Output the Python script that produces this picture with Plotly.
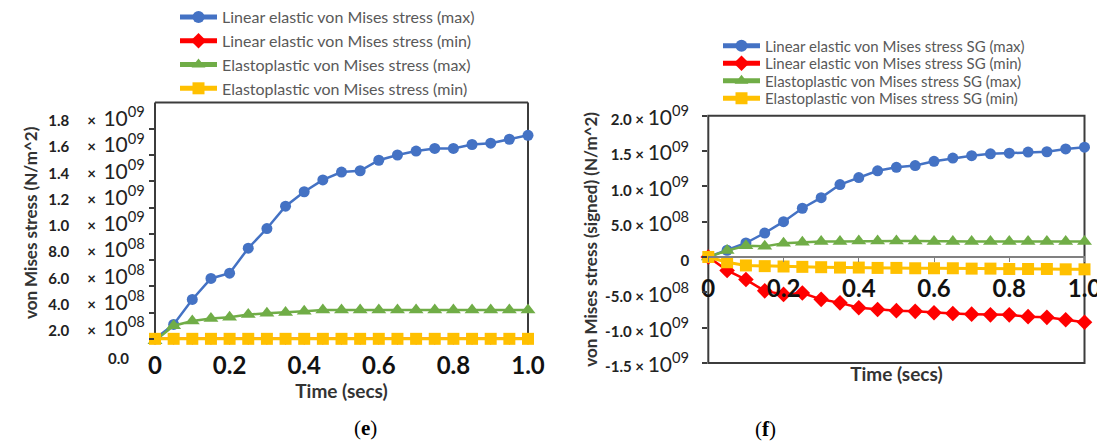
import plotly.graph_objects as go

# ---------------- data ----------------
time_s = [0.0, 0.05, 0.1, 0.15, 0.2, 0.25, 0.3, 0.35, 0.4, 0.45, 0.5,
          0.55, 0.6, 0.65, 0.7, 0.75, 0.8, 0.85, 0.9, 0.95, 1.0]

# panel (e)
e_lin_max = [2.0e8, 3.1e8, 5.0e8, 6.6e8, 7.0e8, 8.9e8, 1.04e9, 1.21e9, 1.32e9, 1.41e9, 1.47e9,
             1.48e9, 1.56e9, 1.60e9, 1.63e9, 1.65e9, 1.65e9, 1.68e9, 1.69e9, 1.72e9, 1.75e9]
e_lin_min = [2.0e8, 2.0e8, 2.0e8, 2.0e8, 2.0e8, 2.0e8, 2.0e8, 2.0e8, 2.0e8, 2.0e8, 2.0e8,
             2.0e8, 2.0e8, 2.0e8, 2.0e8, 2.0e8, 2.0e8, 2.0e8, 2.0e8, 2.0e8, 2.0e8]
e_ep_max = [1.85e8, 3.0e8, 3.35e8, 3.55e8, 3.65e8, 3.85e8, 3.95e8, 4.0e8, 4.1e8, 4.2e8, 4.2e8,
            4.2e8, 4.2e8, 4.2e8, 4.2e8, 4.2e8, 4.2e8, 4.2e8, 4.2e8, 4.2e8, 4.2e8]
e_ep_min = [2.0e8, 2.0e8, 2.0e8, 2.0e8, 2.0e8, 2.0e8, 2.0e8, 2.0e8, 2.0e8, 2.0e8, 2.0e8,
            2.0e8, 2.0e8, 2.0e8, 2.0e8, 2.0e8, 2.0e8, 2.0e8, 2.0e8, 2.0e8, 2.0e8]

# panel (f)
f_lin_max = [0.0, 0.95e8, 1.98e8, 3.39e8, 5.0e8, 6.9e8, 8.4e8, 1.025e9, 1.125e9, 1.22e9, 1.27e9,
             1.295e9, 1.355e9, 1.40e9, 1.435e9, 1.46e9, 1.47e9, 1.485e9, 1.49e9, 1.53e9, 1.555e9]
f_lin_min = [0.0, -1.9e8, -3.2e8, -4.8e8, -5.3e8, -5.1e8, -6.0e8, -6.5e8, -7.2e8, -7.45e8, -7.6e8,
             -7.7e8, -7.9e8, -8.0e8, -8.1e8, -8.2e8, -8.2e8, -8.45e8, -8.55e8, -8.9e8, -9.25e8]
f_ep_max = [0.0, 0.9e8, 1.6e8, 1.5e8, 1.95e8, 2.1e8, 2.2e8, 2.2e8, 2.25e8, 2.25e8, 2.25e8,
            2.25e8, 2.2e8, 2.2e8, 2.2e8, 2.2e8, 2.2e8, 2.2e8, 2.2e8, 2.2e8, 2.2e8]
f_ep_min = [0.0, -0.75e8, -1.2e8, -1.3e8, -1.35e8, -1.4e8, -1.45e8, -1.5e8, -1.5e8, -1.55e8, -1.55e8,
            -1.6e8, -1.6e8, -1.6e8, -1.65e8, -1.65e8, -1.7e8, -1.7e8, -1.7e8, -1.75e8, -1.75e8]

names_e = ["Linear elastic von Mises stress (max)", "Linear elastic von Mises stress (min)",
           "Elastoplastic von Mises stress (max)", "Elastoplastic von Mises stress (min)"]
names_f = ["Linear elastic von Mises stress SG (max)", "Linear elastic von Mises stress SG (min)",
           "Elastoplastic von Mises stress SG (max)", "Elastoplastic von Mises stress SG (min)"]

x_tickvals = [0, 0.2, 0.4, 0.6, 0.8, 1.0]
x_ticktext = ["0", "0.2", "0.4", "0.6", "0.8", "1.0"]

e_ytickvals = [2e8, 4e8, 6e8, 8e8, 1.0e9, 1.2e9, 1.4e9, 1.6e9, 1.8e9]
e_ymant = ["2.0", "4.0", "6.0", "8.0", "1.0", "1.2", "1.4", "1.6", "1.8"]
e_yexp = ["08", "08", "08", "08", "09", "09", "09", "09", "09"]

f_ytickvals = [-1.5e9, -1.0e9, -5e8, 0, 5e8, 1.0e9, 1.5e9, 2.0e9]
f_ymant = ["-1.5", "-1.0", "-5.0", "0", "5.0", "1.0", "1.5", "2.0"]
f_yexp = ["09", "09", "08", "", "08", "09", "09", "09"]

# ---------------- styles ----------------
colors = ["#4472C4", "#FF0000", "#70AD47", "#FFC000"]
symbols = ["circle", "diamond", "triangle-up", "square"]
msizes_e = [11, 9, 13, 12]
msizes_f = [11, 12, 13, 12]
lwidths = [2.5, 2.5, 2.5, 3]
FONT = "Lato"
AX = "#3c3c3c"


def sci_label(m, e, gap1, gap2):
    if e == "":
        return f"<span style='font-size:15px;font-weight:bold'>{m}</span>"
    return (f"<span style='font-size:15px;font-weight:bold'>{m}{gap1}×{gap2}</span>"
            f"10<sup>{e}</sup>")


fig = go.Figure()

series_e = [e_lin_max, e_lin_min, e_ep_max, e_ep_min]
for i, ys in enumerate(series_e):
    fig.add_trace(go.Scatter(
        x=time_s, y=ys, name=names_e[i], mode="lines+markers",
        line=dict(color=colors[i], width=lwidths[i]),
        marker=dict(symbol=symbols[i], size=msizes_e[i], color=colors[i]),
        xaxis="x", yaxis="y", legend="legend", cliponaxis=False))

series_f = [f_lin_max, f_lin_min, f_ep_max, f_ep_min]
for i, ys in enumerate(series_f):
    fig.add_trace(go.Scatter(
        x=time_s, y=ys, name=names_f[i], mode="lines+markers",
        line=dict(color=colors[i], width=lwidths[i]),
        marker=dict(symbol=symbols[i], size=msizes_f[i], color=colors[i]),
        xaxis="x2", yaxis="y2", legend=f"legend{i + 2}", cliponaxis=False))

W, H = 1097, 444
# panel domains (paper fractions)
e_xdom = [155 / W, 528 / W]
e_ydom = [1 - 343 / H, 1 - 101.7 / H]
f_xdom = [708.3 / W, 1084.5 / W]
f_ydom = [1 - 362.7 / H, 1 - 115 / H]
e_yrange = [1.665e8, 2.0e9]
f_yrange = [-1.5e9, 2.0e9]
zero_pos = f_ydom[0] + (0 - f_yrange[0]) / (f_yrange[1] - f_yrange[0]) * (f_ydom[1] - f_ydom[0])

tickfont_x = dict(family=FONT, size=24, color="#111111", weight="bold")
tickfont_y = dict(family=FONT, size=21, color="#222222")
ytitlefont = dict(family=FONT, size=17, color="#333333")
xtitlefont = dict(family=FONT, size=19, color="#333333")

legend_common = dict(font=dict(family=FONT, size=16, color="#595959"),
                     bgcolor="rgba(0,0,0,0)", itemwidth=37, itemsizing="constant",
                     xanchor="left", yanchor="middle", orientation="v")

layout_legends = {}
layout_legends["legend"] = dict(legend_common, x=175 / W, y=1 - 52 / H)
row_y = [46, 63.5, 81, 98.5]
for i in range(4):
    d = dict(legend_common, x=718 / W, y=1 - row_y[i] / H)
    d["font"] = dict(family=FONT, size=15, color="#595959")
    layout_legends[f"legend{i + 2}"] = d

frame = dict(color=AX, width=2)
fig.update_layout(
    width=W, height=H, margin=dict(l=0, r=0, t=0, b=0),
    paper_bgcolor="white", plot_bgcolor="white", showlegend=True,
    xaxis=dict(domain=e_xdom, range=[0, 1.0], anchor="y", tickvals=x_tickvals, ticktext=x_ticktext,
               showgrid=False, zeroline=False, showline=False, ticks="", ticklabelstandoff=6,
               tickfont=tickfont_x, automargin=False, ticklabeloverflow="allow",
               title=dict(text="<b>Time (secs)</b>", font=xtitlefont, standoff=0)),
    yaxis=dict(domain=e_ydom, range=e_yrange, anchor="x", tickvals=e_ytickvals,
               ticktext=[sci_label(m, e, "&nbsp;&nbsp;&nbsp;&nbsp;&nbsp;", "&nbsp;&nbsp;")
                         for m, e in zip(e_ymant, e_yexp)],
               showgrid=False, zeroline=False, showline=False, ticks="outside", ticklen=5,
               tickwidth=1.5, tickcolor=AX, tickfont=tickfont_y, automargin=False,
               ticklabelshift=-10,
               title=dict(text="<b>von Mises stress (N/m^2)</b>", font=ytitlefont, standoff=6)),
    xaxis2=dict(domain=f_xdom, range=[0, 1.0], anchor="free", position=zero_pos,
                tickvals=x_tickvals, ticktext=x_ticktext, showgrid=False, zeroline=False,
                showline=True, linecolor="#808080", linewidth=1.5, ticks="outside", ticklen=4,
                tickcolor="#808080", ticklabelstandoff=6, tickfont=tickfont_x, automargin=False,
                ticklabeloverflow="allow",
                title=dict(text="<b>Time (secs)</b>", font=xtitlefont, standoff=66)),
    yaxis2=dict(domain=f_ydom, range=f_yrange, anchor="x2", tickvals=f_ytickvals,
                ticktext=[sci_label(m, e, "&nbsp;", "&nbsp;") for m, e in zip(f_ymant, f_yexp)],
                showgrid=False, zeroline=False, showline=False, ticks="outside", ticklen=5,
                tickwidth=1.5, tickcolor=AX, tickfont=tickfont_y, automargin=False,
                ticklabelshift=2, ticklabelstandoff=9,
                title=dict(text="<b>von Mises stress (signed) (N/m^2)</b>", font=ytitlefont, standoff=3)),
    shapes=[
        # panel (e): left, top and right frame lines
        dict(type="line", xref="x domain", yref="y domain", x0=0, x1=0, y0=0, y1=1, line=frame, layer="below"),
        dict(type="line", xref="x domain", yref="y domain", x0=0, x1=1, y0=1, y1=1, line=frame, layer="below"),
        dict(type="line", xref="x domain", yref="y domain", x0=1, x1=1, y0=0, y1=1, line=frame, layer="below"),
        # panel (f): full frame
        dict(type="rect", xref="x2 domain", yref="y2 domain", x0=0, x1=1, y0=0, y1=1,
             line=frame, layer="below"),
    ],
    annotations=[
        dict(text="<b>0.0</b>", x=118 / W, y=1 - 358 / H, xref="paper", yref="paper",
             xanchor="center", yanchor="middle",
             showarrow=False, font=dict(family=FONT, size=15, color="#222222")),
        dict(text="(<b>e</b>)", x=365 / W, y=1 - 428 / H, xref="paper", yref="paper",
             xanchor="center", yanchor="middle",
             showarrow=False, font=dict(family="Liberation Serif", size=21, color="#000000")),
        dict(text="(<b>f</b>)", x=765 / W, y=1 - 429 / H, xref="paper", yref="paper",
             xanchor="center", yanchor="middle",
             showarrow=False, font=dict(family="Liberation Serif", size=21, color="#000000")),
    ],
    **layout_legends,
)

fig.write_html("out.html")
